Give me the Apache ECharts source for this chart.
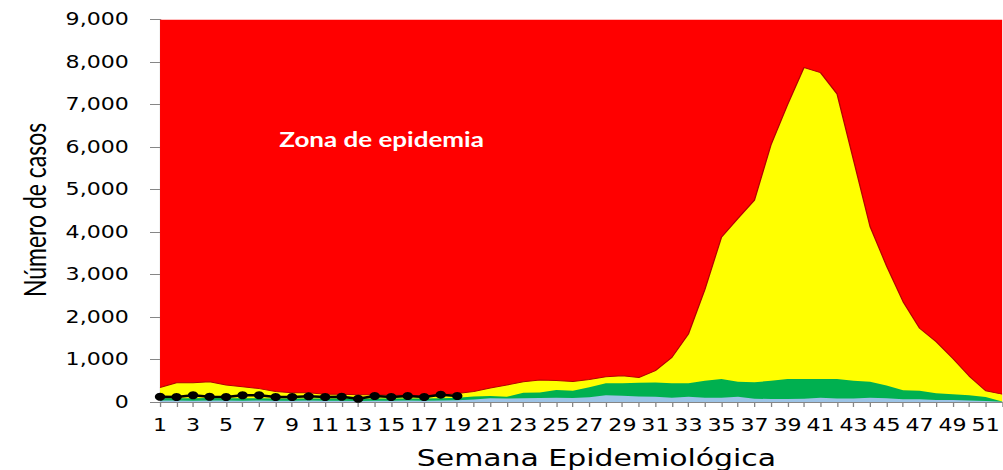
<!DOCTYPE html>
<html>
<head>
<meta charset="utf-8">
<script src="https://cdn.jsdelivr.net/npm/echarts@6/dist/echarts.min.js"></script>
<style>
  html, body { margin: 0; padding: 0; background: #fff; overflow: hidden; }
  #wrap { width: 1003px; height: 470px; overflow: hidden; }
  /* the chart is laid out narrower and widened horizontally */
  #chart { width: 771.54px; height: 470px; transform: scaleX(1.3); transform-origin: 0 0; }
</style>
</head>
<body>
<div id="wrap"><div id="chart"></div></div>
<script>
// Semanas epidemiológicas
const semanas = ['1','2','3','4','5','6','7','8','9','10','11','12','13','14','15','16','17','18','19','20',
  '21','22','23','24','25','26','27','28','29','30','31','32','33','34','35','36','37','38','39','40',
  '41','42','43','44','45','46','47','48','49','50','51','52'];

// Límite superior de la zona de epidemia (tope del eje)
const zonaEpidemia = [9000,9000,9000,9000,9000,9000,9000,9000,9000,9000,9000,9000,9000,9000,9000,9000,9000,9000,9000,9000,
  9000,9000,9000,9000,9000,9000,9000,9000,9000,9000,9000,9000,9000,9000,9000,9000,9000,9000,9000,9000,
  9000,9000,9000,9000,9000,9000,9000,9000,9000,9000,9000,9000];

// Zona de alerta (límite superior del canal endémico)
const zonaAlerta = [340,455,455,478,400,360,315,245,220,215,180,180,170,170,160,160,150,165,200,245,
  330,400,475,520,505,480,530,596,619,575,737,1050,1600,2650,3875,4320,4750,6050,6990,7870,
  7750,7250,5690,4130,3200,2360,1735,1420,1030,610,265,185];

// Zona de seguridad (mediana)
const zonaSeguridad = [95,90,90,95,90,90,90,85,85,85,80,80,75,80,80,85,85,90,100,130,
  141,125,220,225,285,267,350,440,440,455,458,440,440,498,541,478,462,502,541,541,
  541,541,500,475,390,275,267,204,180,160,120,10];

// Zona de éxito (límite inferior)
const zonaExito = [35,35,30,35,35,30,35,30,30,35,30,30,25,30,30,35,30,35,40,60,
  87,80,87,95,102,95,110,157,150,130,126,102,126,102,102,126,75,72,72,75,
  102,80,80,102,87,65,63,50,50,33,25,5];

// Casos notificados en el año en curso
const casos = [125,118,157,125,118,157,157,118,118,133,118,125,78,141,118,141,118,173,141];

const axisGrey = '#868686';
const chart = echarts.init(document.getElementById('chart'), null, { renderer: 'svg' });

function area(name, data, color, line) {
  return {
    name: name,
    type: 'line',
    data: data,
    symbol: 'none',
    silent: true,
    lineStyle: line || { width: 0 },
    areaStyle: { color: color, opacity: 1 },
    itemStyle: { color: color }
  };
}

chart.setOption({
  animation: false,
  backgroundColor: '#ffffff',
  grid: { left: 123.1, right: -1.3, top: 19.5, bottom: 68, containLabel: false },
  xAxis: {
    type: 'category',
    data: semanas,
    boundaryGap: false,
    axisLine: { show: true, lineStyle: { color: axisGrey, width: 1 } },
    axisTick: { show: true, interval: 0, length: 5, lineStyle: { color: axisGrey } },
    axisLabel: {
      interval: 1, margin: 15, color: '#000',
      fontFamily: 'DejaVu Sans', fontSize: 17
    },
    splitLine: { show: false }
  },
  yAxis: {
    type: 'value',
    min: 0, max: 9000, interval: 1000,
    axisLine: { show: true, lineStyle: { color: axisGrey, width: 1 } },
    axisTick: { show: true, length: 7.7, lineStyle: { color: axisGrey } },
    axisLabel: {
      margin: 24, color: '#000',
      fontFamily: 'DejaVu Sans', fontSize: 17,
      formatter: function (v) { return v.toLocaleString('en-US'); }
    },
    splitLine: { show: false }
  },
  series: [
    area('Zona de epidemia', zonaEpidemia, '#ff0000'),
    area('Zona de alerta', zonaAlerta, '#ffff00', { width: 1, color: '#b40000' }),
    area('Zona de seguridad', zonaSeguridad, '#00b050'),
    area('Zona de éxito', zonaExito, '#9dc3e6'),
    {
      name: 'Casos',
      type: 'line',
      data: casos,
      symbol: 'circle',
      symbolSize: 8,
      lineStyle: { color: '#000', width: 2.5 },
      itemStyle: { color: '#000' },
      z: 5
    }
  ],
  graphic: [
    {
      type: 'text', x: 293.5, y: 139, z: 100,
      style: {
        text: 'Zona de epidemia', fill: '#ffffff',
        font: 'bold 20px Lato', textAlign: 'center', textVerticalAlign: 'middle'
      }
    },
    {
      type: 'text', x: 27, y: 210, rotation: Math.PI / 2, z: 100,
      style: {
        text: 'Número de casos', fill: '#000',
        font: '23px Lato', textAlign: 'center', textVerticalAlign: 'middle'
      }
    },
    {
      type: 'text', x: 458.8, y: 457.5, z: 100,
      style: {
        text: 'Semana Epidemiológica', fill: '#000',
        font: '23px "DejaVu Sans"', textAlign: 'center', textVerticalAlign: 'middle'
      }
    }
  ]
});
</script>
</body>
</html>
